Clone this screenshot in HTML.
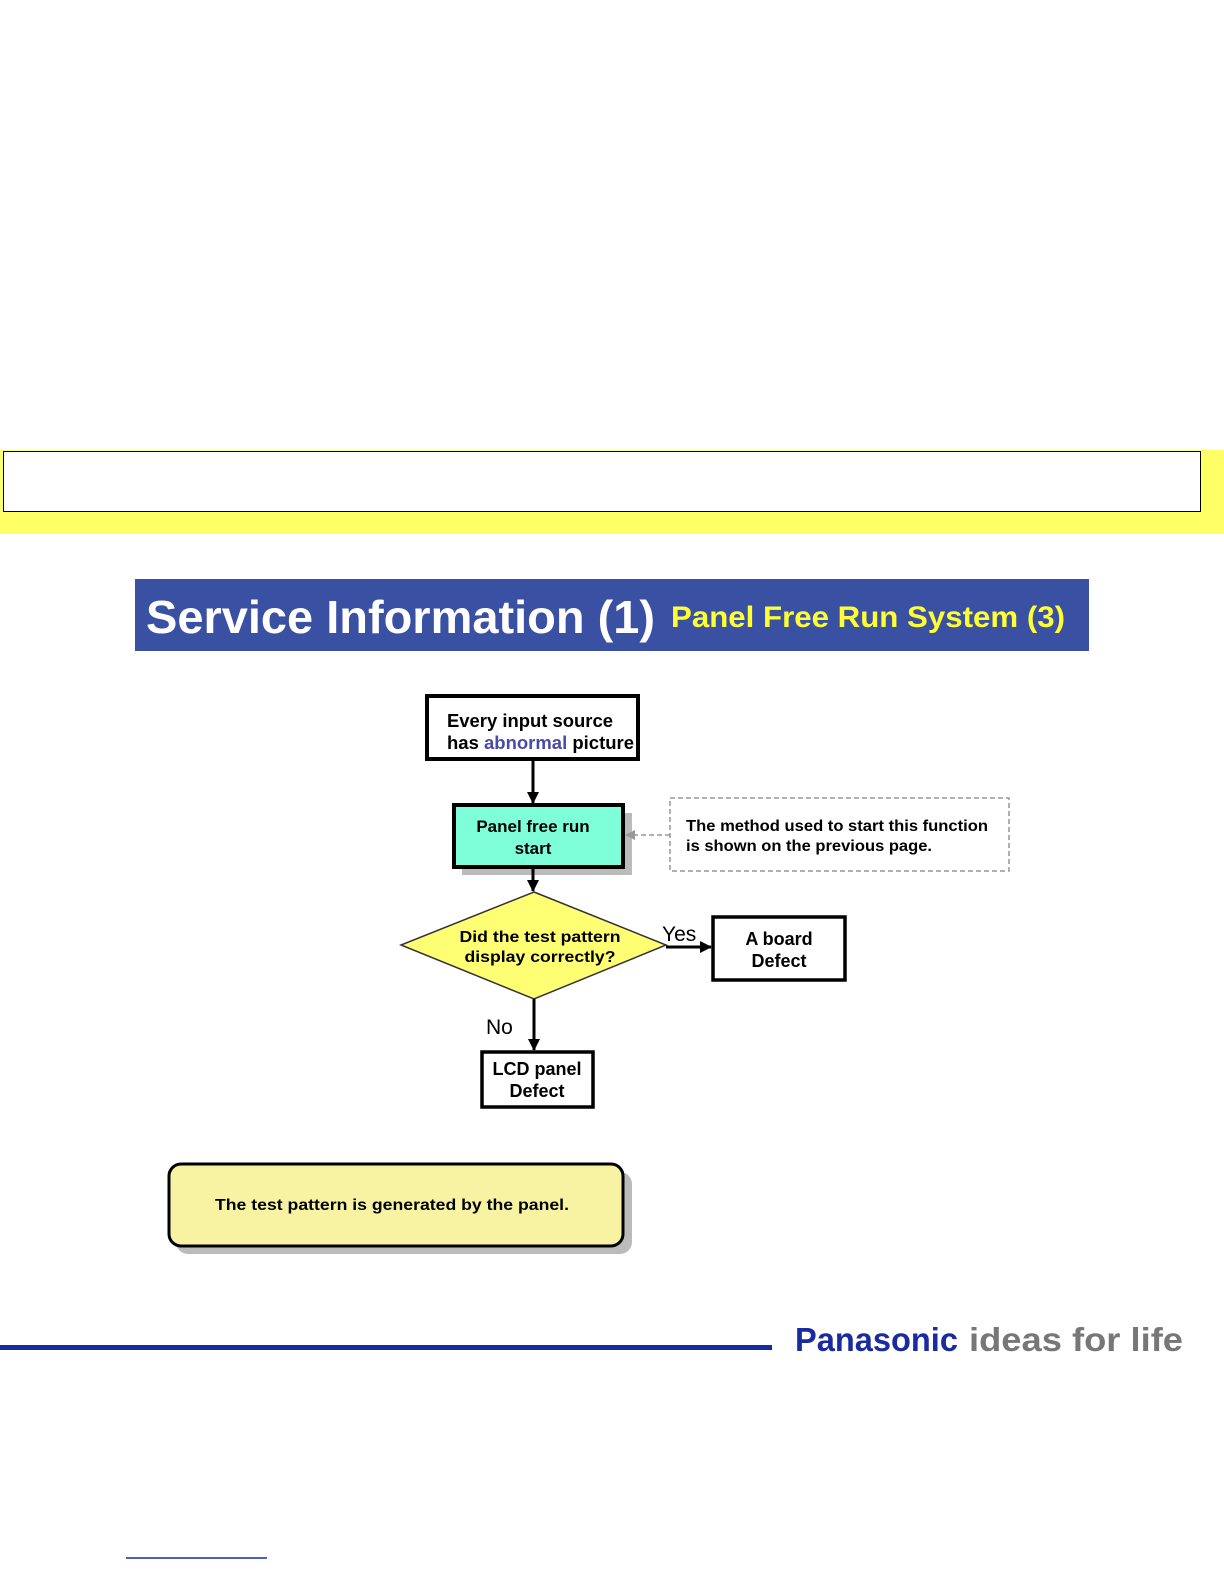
<!DOCTYPE html>
<html><head><meta charset="utf-8"><style>
html,body{margin:0;padding:0;background:#fff}
svg{display:block}
text{font-family:"Liberation Sans",Arial,sans-serif;font-weight:bold}
</style></head><body>
<svg width="1224" height="1584" viewBox="0 0 1224 1584" xmlns="http://www.w3.org/2000/svg">
<defs>
<marker id="ah" markerWidth="12" markerHeight="12" refX="11" refY="6" orient="auto" markerUnits="userSpaceOnUse"><path d="M0,0 L12,6 L0,12 z" fill="#000"/></marker>
<marker id="ag" markerWidth="10" markerHeight="10" refX="9" refY="5" orient="auto" markerUnits="userSpaceOnUse"><path d="M0,0 L10,5 L0,10 z" fill="#999"/></marker>
</defs>
<rect x="0" y="450" width="1224" height="84" fill="#ffff66"/>
<rect x="3.5" y="451.5" width="1197" height="60" fill="#fff" stroke="#000" stroke-width="1"/>
<rect x="135" y="579" width="954" height="72" fill="#3a51a3"/>
<text x="146" y="633" font-size="46" fill="#fff" textLength="509" lengthAdjust="spacingAndGlyphs">Service Information (1)</text>
<text x="671" y="627" font-size="30" fill="#ffff33" textLength="394" lengthAdjust="spacingAndGlyphs">Panel Free Run System (3)</text>
<!-- box 1 -->
<rect x="427" y="696" width="211" height="63" fill="#fff" stroke="#000" stroke-width="4"/>
<text x="447" y="727" font-size="18" fill="#000" textLength="166" lengthAdjust="spacingAndGlyphs">Every input source</text>
<text x="447" y="749" font-size="18" fill="#000" textLength="187" lengthAdjust="spacingAndGlyphs">has <tspan fill="#4a4aa8">abnormal</tspan> picture</text>
<line x1="533" y1="759" x2="533" y2="803" stroke="#000" stroke-width="3" marker-end="url(#ah)"/>
<!-- green -->
<rect x="462" y="813" width="170" height="62" fill="#bbb"/>
<rect x="454" y="805" width="169" height="62" fill="#7fffd9" stroke="#000" stroke-width="4"/>
<text x="533" y="832" font-size="17" text-anchor="middle">Panel free run</text>
<text x="533" y="854" font-size="17" text-anchor="middle">start</text>
<rect x="670" y="798" width="339" height="73" fill="#fff" stroke="#999" stroke-width="1.5" stroke-dasharray="5,3"/>
<line x1="670" y1="835" x2="626" y2="835" stroke="#999" stroke-width="1.5" stroke-dasharray="5,3" marker-end="url(#ag)"/>
<text x="686" y="831" font-size="16" textLength="302" lengthAdjust="spacingAndGlyphs">The method used to start this function</text>
<text x="686" y="851" font-size="16" textLength="246" lengthAdjust="spacingAndGlyphs">is shown on the previous page.</text>
<line x1="533" y1="867" x2="533" y2="891" stroke="#000" stroke-width="3" marker-end="url(#ah)"/>
<!-- diamond -->
<polygon points="534,892 666,945 534,999 401,945" fill="#ffff73" stroke="#333" stroke-width="1.5"/>
<text x="540" y="942" font-size="16" text-anchor="middle" textLength="161" lengthAdjust="spacingAndGlyphs">Did the test pattern</text>
<text x="540" y="962" font-size="16" text-anchor="middle" textLength="151" lengthAdjust="spacingAndGlyphs">display correctly?</text>
<line x1="666" y1="947" x2="711" y2="947" stroke="#000" stroke-width="3" marker-end="url(#ah)"/>
<text x="662" y="941" font-size="21" style="font-weight:normal">Yes</text>
<rect x="713" y="917" width="132" height="63" fill="#fff" stroke="#000" stroke-width="3.5"/>
<text x="779" y="945" font-size="18" text-anchor="middle">A board</text>
<text x="779" y="967" font-size="18" text-anchor="middle">Defect</text>
<line x1="534" y1="999" x2="534" y2="1050" stroke="#000" stroke-width="3" marker-end="url(#ah)"/>
<text x="486" y="1034" font-size="21" style="font-weight:normal">No</text>
<rect x="482" y="1052" width="111" height="55" fill="#fff" stroke="#000" stroke-width="3.5"/>
<text x="537" y="1075" font-size="18" text-anchor="middle">LCD panel</text>
<text x="537" y="1097" font-size="18" text-anchor="middle">Defect</text>
<!-- note -->
<rect x="176" y="1172" width="456" height="82" rx="12" fill="#bbb"/>
<rect x="169" y="1164" width="454" height="82" rx="12" fill="#f8f3a3" stroke="#000" stroke-width="3"/>
<text x="215" y="1210" font-size="16" textLength="354" lengthAdjust="spacingAndGlyphs">The test pattern is generated by the panel.</text>
<!-- footer -->
<rect x="0" y="1345" width="772" height="5" fill="#1a2aa0"/>
<text x="795" y="1351" font-size="33" fill="#1a2aa0" textLength="163" lengthAdjust="spacingAndGlyphs">Panasonic</text>
<text x="969" y="1351" font-size="33" fill="#777" textLength="214" lengthAdjust="spacingAndGlyphs">ideas for life</text>
<line x1="126" y1="1558" x2="267" y2="1558" stroke="#1a2aa0" stroke-width="1.5"/>
</svg>
</body></html>
